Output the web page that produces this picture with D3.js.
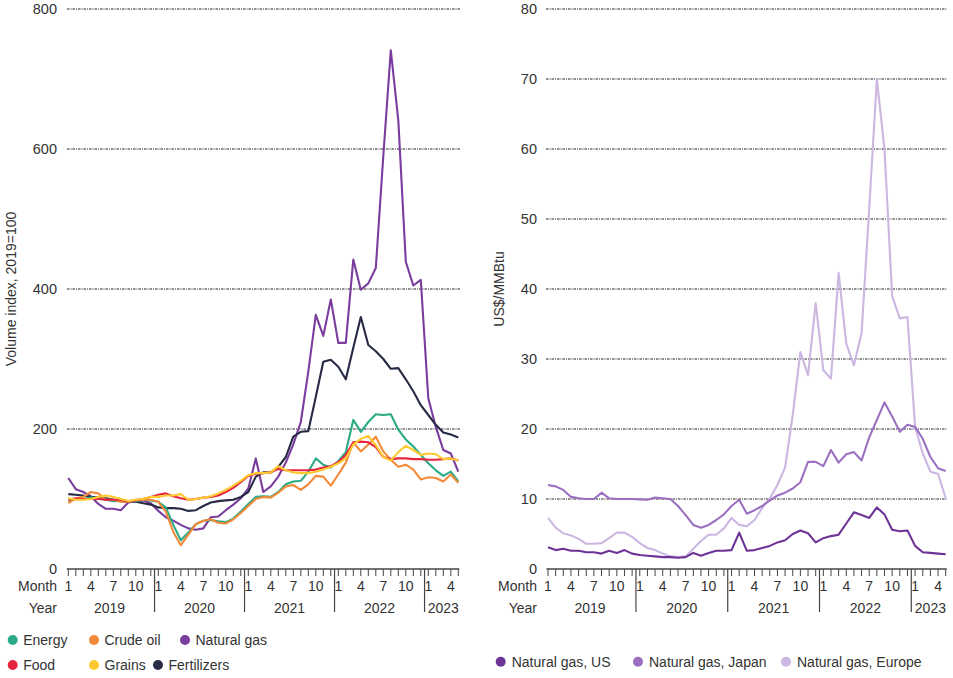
<!DOCTYPE html>
<html><head><meta charset="utf-8">
<script src="https://cdn.jsdelivr.net/npm/d3@7"></script>
<style>
body{margin:0;background:#fff;}
svg text{font-family:"Liberation Sans",Arial,sans-serif;fill:#333;}
</style></head>
<body><svg id="c" width="953" height="678"></svg>
<script>
// Months: Jan 2019 .. May 2023 (53 points)
const years = [2019, 2020, 2021, 2022, 2023];
const monthLabels = [1, 4, 7, 10];
const leftTicks = [0, 200, 400, 600, 800];
const rightTicks = [0, 10, 20, 30, 40, 50, 60, 70, 80];

const energy = [98,100,100,102,101,99,97,97,96,97,99,98,96,88,63,41,52,64,69,70,68,67,72,82,93,103,104,103,110,121,125,126,139,158,149,145,154,167,213,196,210,221,220,221,199,185,175,163,151,141,133,139,125];
const crudeOil = [94,101,103,110,108,99,99,96,96,99,99,99,96,82,53,34,49,64,69,71,66,65,71,80,90,100,103,102,109,118,120,113,121,133,132,119,135,152,181,168,178,189,168,156,146,149,142,128,131,130,125,135,123];
const naturalGas = [130,114,110,104,93,86,86,84,95,97,98,94,83,74,69,63,58,56,58,74,75,84,92,101,115,158,110,118,132,152,178,210,282,363,333,385,323,323,442,399,408,430,590,741,641,439,405,413,244,203,170,165,139];
const food = [99,101,100,100,100,99,99,99,96,98,100,103,106,108,104,101,99,100,102,103,105,110,116,124,133,136,137,138,143,141,141,141,141,142,145,147,153,163,181,182,181,174,160,157,158,158,157,157,156,156,157,158,155];
const grains = [101,99,99,100,103,105,103,100,97,99,100,103,103,105,105,107,99,100,102,104,108,113,119,126,134,137,137,138,147,141,138,137,137,139,142,146,151,158,178,186,190,177,160,155,167,176,170,163,165,164,157,158,155];
const fertilizers = [107,106,105,103,102,101,99,97,96,96,94,92,88,87,87,86,83,84,90,95,97,98,99,103,110,132,138,138,146,160,189,196,197,246,296,299,289,271,316,360,320,311,300,286,287,271,254,234,220,206,195,192,188];

const gasUS = [3.1,2.7,2.9,2.6,2.6,2.4,2.4,2.2,2.6,2.3,2.7,2.2,2.0,1.9,1.8,1.7,1.7,1.6,1.7,2.3,1.9,2.3,2.6,2.6,2.7,5.2,2.6,2.7,3.0,3.3,3.8,4.1,5.0,5.5,5.1,3.8,4.4,4.7,4.9,6.5,8.1,7.7,7.3,8.8,7.8,5.6,5.4,5.5,3.3,2.4,2.3,2.2,2.1];
const gasJapan = [12.0,11.8,11.3,10.3,10.1,10.0,10.0,10.9,10.1,10.0,10.0,10.0,9.95,9.9,10.2,10.1,10.0,9.0,7.7,6.3,5.9,6.3,7.0,7.8,9.0,9.9,7.9,8.4,9.0,9.8,10.5,10.9,11.5,12.4,15.3,15.3,14.7,17.0,15.2,16.4,16.7,15.5,18.8,21.3,23.8,21.8,19.6,20.6,20.3,18.6,16.0,14.4,14.0];
const gasEurope = [7.3,5.9,5.1,4.8,4.3,3.6,3.6,3.7,4.4,5.2,5.2,4.6,3.7,3.0,2.7,2.2,1.8,1.7,1.8,2.9,4.0,4.9,4.9,5.8,7.3,6.3,6.1,7.0,8.7,10.1,12.0,14.5,22.0,31.0,27.7,38.0,28.4,27.2,42.3,32.2,29.1,33.7,51.5,70.0,59.9,39.0,35.8,36.0,20.3,16.5,13.9,13.6,10.1];

const leftSeries = [
  {name:"Energy", values:energy, color:"#2aab86"},
  {name:"Crude oil", values:crudeOil, color:"#f28a3a"},
  {name:"Natural gas", values:naturalGas, color:"#7a3d9e"},
  {name:"Food", values:food, color:"#e8253f"},
  {name:"Grains", values:grains, color:"#ffc930"},
  {name:"Fertilizers", values:fertilizers, color:"#272a45"}
];
const drawOrderLeft = ["Natural gas","Fertilizers","Energy","Crude oil","Food","Grains"];
const rightSeries = [
  {name:"Natural gas, US", values:gasUS, color:"#6d3396"},
  {name:"Natural gas, Japan", values:gasJapan, color:"#9b70c1"},
  {name:"Natural gas, Europe", values:gasEurope, color:"#cbb7e1"}
];
const drawOrderRight = ["Natural gas, Europe","Natural gas, Japan","Natural gas, US"];

const N = energy.length;
const svg = d3.select("#c");

function panel(cfg){
  const g = svg.append("g");
  const x = d3.scaleLinear().domain([0, N-1]).range([cfg.x0, cfg.x1]);
  const y = d3.scaleLinear().domain([0, cfg.ymax]).range([569, 9]);
  // gridlines
  g.selectAll("line.grid").data(cfg.ticks.filter(t=>t>0)).join("line")
    .attr("x1", cfg.gx0).attr("x2", cfg.gx1)
    .attr("y1", d=>y(d)).attr("y2", d=>y(d))
    .attr("stroke","#222").attr("stroke-width",1)
    .attr("stroke-dasharray","2.5,1,1,1");
  // y labels
  g.selectAll("text.yl").data(cfg.ticks).join("text")
    .attr("x", cfg.labelX).attr("y", d=>y(d)+5)
    .attr("text-anchor","end").attr("font-size",14.5).text(d=>d);
  // axis title
  g.append("text")
    .attr("transform",`translate(${cfg.titleX},${(y(0)+y(cfg.ymax))/2}) rotate(-90)`)
    .attr("text-anchor","middle").attr("font-size",14).text(cfg.title);
  // x axis baseline
  g.append("line").attr("x1",x(0)-1.5).attr("x2",x(N-1)+1)
    .attr("y1",569).attr("y2",569).attr("stroke","#444").attr("stroke-width",1.3);
  const idx = d3.range(N);
  g.selectAll("line.tk").data(idx).join("line")
    .attr("x1",d=>x(d)).attr("x2",d=>x(d)).attr("y1",569).attr("y2",576)
    .attr("stroke","#444").attr("stroke-width",1);
  // year dividers
  g.selectAll("line.yd").data(idx.filter(i=>i>0 && i%12===0)).join("line")
    .attr("x1",d=>x(d-0.5)).attr("x2",d=>x(d-0.5)).attr("y1",569).attr("y2",612)
    .attr("stroke","#444").attr("stroke-width",1.2);
  // month labels
  g.selectAll("text.ml").data(idx.filter(i=>monthLabels.includes(i%12+1))).join("text")
    .attr("x",d=>x(d)).attr("y",590.5).attr("text-anchor","middle").attr("font-size",14)
    .text(d=>d%12+1);
  g.append("text").attr("x",cfg.labelX).attr("y",590.5).attr("text-anchor","end").attr("font-size",14).text("Month");
  g.append("text").attr("x",cfg.labelX).attr("y",613).attr("text-anchor","end").attr("font-size",14).text("Year");
  g.selectAll("text.yr").data(years).join("text")
    .attr("x",(d,k)=>{const a=k*12, b=Math.min(k*12+11,N-1); return (x(a)+x(b))/2;})
    .attr("y",613).attr("text-anchor","middle").attr("font-size",14).text(d=>d);
  // lines
  const line = d3.line().x((d,i)=>x(i)).y(d=>y(d));
  cfg.order.forEach(nm=>{
    const s = cfg.series.find(q=>q.name===nm);
    g.append("path").datum(s.values).attr("d",line)
      .attr("fill","none").attr("stroke",s.color).attr("stroke-width",2.1)
      .attr("stroke-linejoin","round");
  });
}

panel({x0:68.3, x1:458.3, gx0:67, gx1:460, ymax:800, ticks:leftTicks, labelX:57,
  titleX:16, title:"Volume index, 2019=100", series:leftSeries, order:drawOrderLeft});
panel({x0:548, x1:945.7, gx0:546, gx1:947, ymax:80, ticks:rightTicks, labelX:537,
  titleX:504, title:"US$/MMBtu", series:rightSeries, order:drawOrderRight});

// legends
const legLeft = [
  {s:"Energy", cx:12.7, cy:640}, {s:"Crude oil", cx:94, cy:640}, {s:"Natural gas", cx:185, cy:640},
  {s:"Food", cx:12.7, cy:665}, {s:"Grains", cx:94, cy:665}, {s:"Fertilizers", cx:158, cy:665}
];
legLeft.forEach(l=>{
  const s = leftSeries.find(q=>q.name===l.s);
  svg.append("circle").attr("cx",l.cx).attr("cy",l.cy).attr("r",5).attr("fill",s.color);
  svg.append("text").attr("x",l.cx+10.5).attr("y",l.cy+5).attr("font-size",14).text(s.name);
});
const legRight = [{s:"Natural gas, US", cx:500.7}, {s:"Natural gas, Japan", cx:638}, {s:"Natural gas, Europe", cx:786}];
legRight.forEach(l=>{
  const s = rightSeries.find(q=>q.name===l.s);
  svg.append("circle").attr("cx",l.cx).attr("cy",661.7).attr("r",5).attr("fill",s.color);
  svg.append("text").attr("x",l.cx+11).attr("y",666.7).attr("font-size",14).text(s.name);
});
</script></body></html>
